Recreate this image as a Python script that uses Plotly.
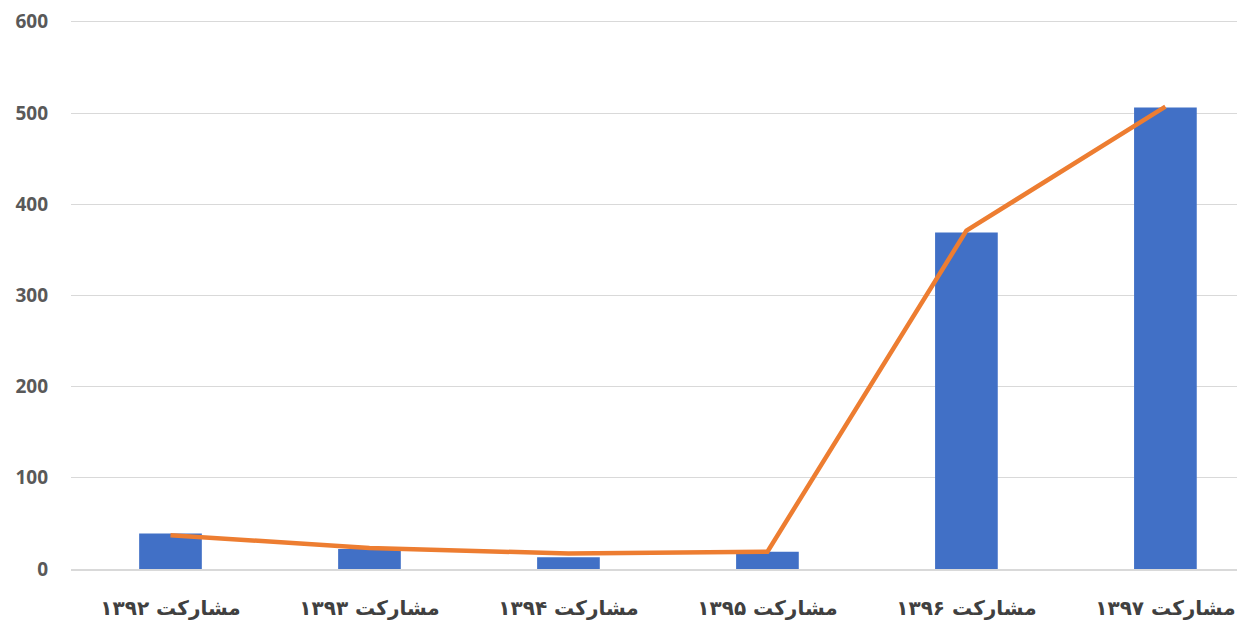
import plotly.graph_objects as go

categories = ["مشارکت ۱۳۹۲", "مشارکت ۱۳۹۳", "مشارکت ۱۳۹۴", "مشارکت ۱۳۹۵", "مشارکت ۱۳۹۶", "مشارکت ۱۳۹۷"]
bar_values = [39, 22, 13, 19, 369, 506]
line_values = [37, 23, 17, 19, 371, 507]
y_ticks = [0, 100, 200, 300, 400, 500, 600]

fig = go.Figure()
fig.add_trace(go.Bar(
    x=categories, y=bar_values,
    marker=dict(color="#4170C6", line=dict(width=0)),
    width=0.315,
    showlegend=False,
))
fig.add_trace(go.Scatter(
    x=categories, y=line_values, mode="lines",
    line=dict(color="#ED7D31", width=4.5),
    showlegend=False,
))

fig.update_layout(
    width=1237, height=618,
    margin=dict(l=63, r=0, t=12, b=57),
    paper_bgcolor="white", plot_bgcolor="white",
    bargap=0.69,
    xaxis=dict(
        range=[-0.5, 5.4],
        automargin=False,
        showgrid=False,
        showline=True, linecolor="#D9D9D9", linewidth=1.5,
        ticks="", tickfont=dict(family="DejaVu Sans", size=20, color="#404040", weight="bold"),
        ticklabelstandoff=20,
    ),
    yaxis=dict(
        range=[0, 602],
        automargin=False,
        tickvals=y_ticks,
        showgrid=True, gridcolor="#D9D9D9", gridwidth=1.2,
        zeroline=False, showline=False,
        tickfont=dict(family="Open Sans", size=19, color="#595959", weight="bold"),
        ticklabelstandoff=22,
    ),
)

fig.write_html("out.html")
